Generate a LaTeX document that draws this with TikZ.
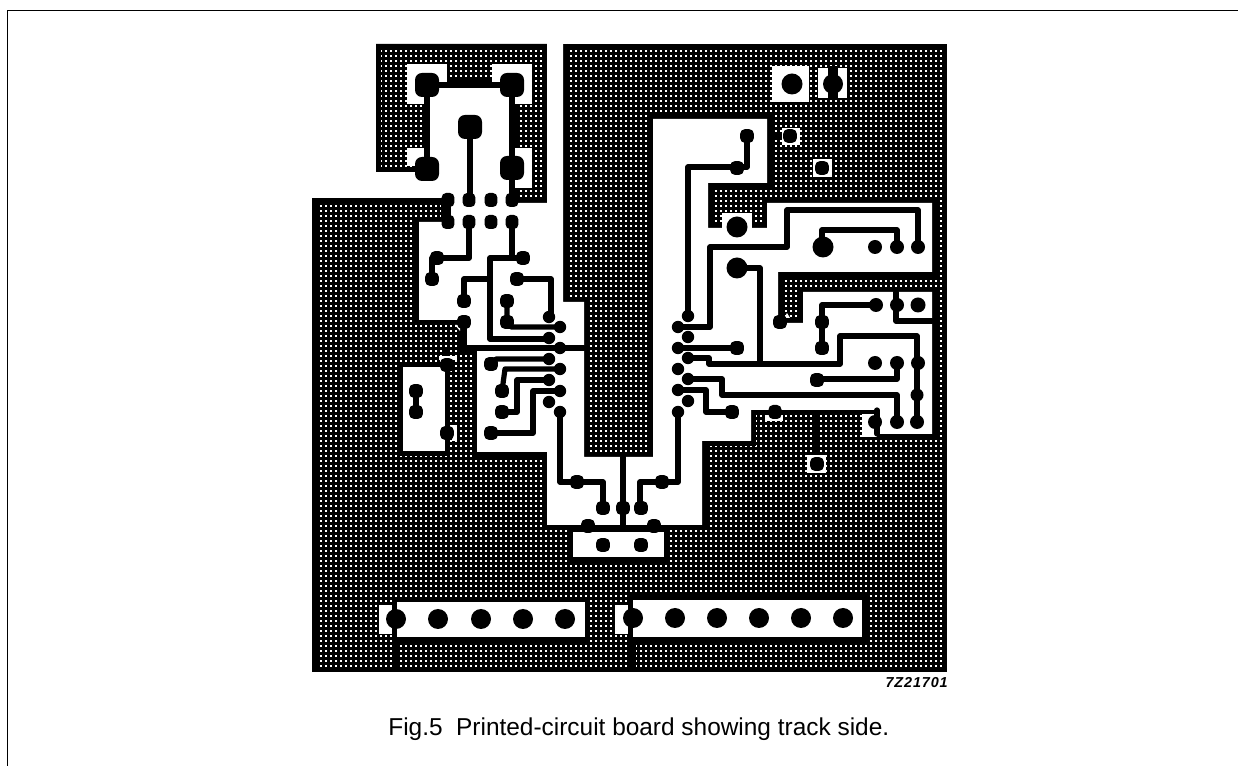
\documentclass[tikz,border=0pt]{standalone}
\usepackage{fontspec}
\setmainfont{Liberation Sans}
\newfontfamily\codefont[LetterSpace=6]{Liberation Sans}
\newcommand\cpad[3]{\fill (#1,#2) circle[radius=#3];}
\newcommand\rpad[4]{\fill[rounded corners=0.09cm] ({#1-#3},{#2-#4}) rectangle ({#1+#3},{#2+#4});}
\newcommand\bpad[2]{\fill[rounded corners=0.14cm] ({#1-12},{#2-12}) rectangle ({#1+12},{#2+12});}
\newcommand\pin[2]{\cpad{#1}{#2}{6.2}}
\newcommand\spad[2]{\rpad{#1}{#2}{6.8}{6.8}}
\tikzset{
  trk/.style={draw=black,line width=0.104cm,line join=round,line cap=round},
  band/.style={draw=black,line width=0.2cm,line join=miter},
  clear/.style={fill=white},
  dotrow/.style={draw=white,line width=0.048cm,dash pattern=on 0.048cm off 0.052cm},
  framer/.style={draw=black,line width=0.03cm}
}
\begin{document}
\begin{tikzpicture}[x=0.02cm,y=-0.02cm]
\useasboundingbox (0,0) rectangle (1238,766);
\fill[white] (0,0) rectangle (1238,766);
% frame
\draw[framer] (7.5,766) -- (7.5,10.5) -- (1238,10.5);
% copper ground
\fill[black] (376,44) -- (547,44) -- (547,203) -- (512,203) -- (512,85) -- (427,85) -- (427,172) -- (376,172) -- cycle;
\fill[black] (563,44) rectangle (947,672);
\fill[black] (312,198) rectangle (564,672);
% perforation dots
\begin{scope}
\clip (381,49) -- (542,49) -- (542,198) -- (512,198) -- (512,85) -- (427,85) -- (427,167) -- (381,167) -- cycle
      (568,49) rectangle (942,667)
      (317,203) rectangle (569,667);
\foreach \r in {46,51,...,671}{
  \draw[dotrow] (300,\r) -- (960,\r);
}
\end{scope}
% solid tracks running through the ground
\draw[black,line width=0.16cm] (396,598) -- (396,672);
\draw[black,line width=0.16cm] (632,598) -- (632,672);
\draw[black,line width=0.1cm] (817,411) -- (817,458);
\draw[black,line width=0.12cm] (447,350) -- (447,456);
\draw[black,line width=0.1cm] (770,136) -- (790,136);
% solid bands round the cleared areas
\draw[band] (563,44) -- (563,302) -- (584,302) -- (584,457) -- (653,457) -- (653,119) -- (767,119)
  -- (767,183) -- (708,183) -- (708,228) -- (767,228) -- (767,203) -- (932,203) -- (932,272)
  -- (778,272) -- (778,323) -- (803,323) -- (803,292) -- (932,292) -- (932,434) -- (877,434)
  -- (877,410) -- (751,410) -- (751,441) -- (702,441) -- (702,525) -- (547,525) -- (547,452)
  -- (477,452) -- (477,347) -- (464,347) -- (464,320) -- (419,320) -- (419,222) -- (446,222) -- (446,198);
\draw[band] (427,172) -- (427,85) -- (512,85) -- (512,203) -- (547,203) -- (547,44);
\draw[band] (403,367) rectangle (445,451);
\draw[band] (573,532) rectangle (664,557);
\draw[band] (397,602) rectangle (585,637);
\draw[band] (633,600) rectangle (862,637);
% cleared areas
\fill[clear] (563,44) -- (563,302) -- (584,302) -- (584,457) -- (653,457) -- (653,119) -- (767,119)
  -- (767,183) -- (708,183) -- (708,228) -- (767,228) -- (767,203) -- (932,203) -- (932,272)
  -- (778,272) -- (778,323) -- (803,323) -- (803,292) -- (932,292) -- (932,434) -- (877,434)
  -- (877,410) -- (751,410) -- (751,441) -- (702,441) -- (702,525) -- (547,525) -- (547,452)
  -- (477,452) -- (477,347) -- (464,347) -- (464,320) -- (419,320) -- (419,222) -- (446,222) -- (446,198)
  -- (427,172) -- (427,85) -- (512,85) -- (512,203) -- (547,203) -- (547,40) -- (563,40) -- cycle;
\fill[clear] (403,367) rectangle (445,451);
\fill[clear] (573,532) rectangle (664,557);
\fill[clear] (397,602) rectangle (585,637);
\fill[clear] (633,600) rectangle (862,637);
% pad clearances
\fill[clear] (407,64) rectangle (447,104);
\fill[clear] (492,64) rectangle (532,104);
\fill[clear] (407,148) rectangle (427,166);
\fill[clear] (512,148) rectangle (532,188);
\fill[clear] (379,605) rectangle (392,634);
\fill[clear] (615,605) rectangle (628,634);
\fill[clear] (772,66) rectangle (809,102);
\fill[clear] (818,68) rectangle (847,98);
\fill[clear] (782,128) rectangle (800,145);
\fill[clear] (813,159) rectangle (832,177);
\fill[clear] (722,213) rectangle (752,230);
\fill[clear] (807,455) rectangle (826,473);
\fill[clear] (862,414) rectangle (877,437);
\fill[clear] (765,415) rectangle (783,421);
\fill[clear] (439,356) rectangle (457,360);
\fill[clear] (452,425) rectangle (457,441);
\fill[clear] (455,325) -- (460,325) -- (460,331) -- cycle;
\fill[clear] (787,313) -- (790,318) -- (784,318) -- cycle;
% tracks: top left
\draw[trk] (427,169) -- (427,85) -- (512,85) -- (512,200);
\draw[trk] (470,127) -- (470,200);
\draw[trk] (448,200) -- (448,222);
\draw[trk] (469,222) -- (469,258) -- (432,258) -- (432,279);
\draw[trk] (512,222) -- (512,258);
\draw[trk] (523,258) -- (490,258) -- (490,339) -- (549,339);
\draw[trk] (517,279) -- (551,279) -- (551,317);
\draw[trk] (507,301) -- (507,322) -- (511,327) -- (560,327);
\draw[trk] (464,301) -- (464,279) -- (490,279);
\draw[trk] (464,322) -- (464,348) -- (584,348);
% tracks: left IC
\draw[trk] (491,364) -- (496,359) -- (549,359);
\draw[trk] (502,391) -- (505,369) -- (560,369);
\draw[trk] (502,412) -- (517,412) -- (517,380) -- (549,380);
\draw[trk] (491,433) -- (533,433) -- (533,391) -- (560,391);
\draw[trk] (560,412) -- (560,482) -- (603,482) -- (603,508);
% tracks: bottom centre
\draw[trk] (678,412) -- (678,482) -- (640,482) -- (640,508);
\draw[trk] (623,457) -- (623,526);
% tracks: right IC
\draw[trk] (688,316) -- (688,167) -- (747,167) -- (747,136);
\draw[trk] (678,327) -- (710,327) -- (710,247) -- (787,247) -- (787,210) -- (918,210) -- (918,247);
\draw[trk] (737,268) -- (760,268) -- (760,364);
\draw[trk] (822,247) -- (822,230) -- (897,230) -- (897,247);
\draw[trk] (678,348) -- (737,348);
\draw[trk] (688,358) -- (709,358) -- (709,364) -- (840,364) -- (840,336) -- (917,336) -- (917,422);
\draw[trk] (688,379) -- (722,379) -- (722,395) -- (897,395) -- (897,422);
\draw[trk] (678,390) -- (706,390) -- (706,412) -- (731,412);
\draw[trk] (897,363) -- (897,379) -- (817,379);
\draw[trk] (876,305) -- (822,305) -- (822,348);
\draw[trk] (896,292) -- (896,321) -- (932,321);
\draw[trk] (877,410) -- (877,434);
\draw[trk] (416,391) -- (416,412);
% pads: top left
\bpad{427}{85} \bpad{512}{85} \bpad{470}{127} \bpad{427}{169} \bpad{512}{168}
\foreach \px in {448,469,491,512}{ \rpad{\px}{200}{6.4}{7} \rpad{\px}{222}{6.4}{7} }
\spad{432}{279} \spad{437}{258} \spad{523}{258} \spad{517}{279}
\spad{507}{301} \spad{507}{322} \spad{464}{301} \spad{464}{322}
\spad{416}{391} \spad{416}{412} \spad{447}{365} \spad{447}{433}
\spad{491}{364} \spad{502}{391} \spad{502}{412} \spad{491}{433}
% pads: IC columns
\foreach \py in {317,338,359,380,402}{ \pin{549}{\py} }
\foreach \py in {327,348,369,391,412}{ \pin{560}{\py} }
\foreach \py in {327,348,369,390,412}{ \pin{678}{\py} }
\foreach \py in {316,337,358,379,401}{ \pin{688}{\py} }
% pads: bottom centre
\spad{603}{508} \spad{623}{508} \spad{641}{508}
\spad{577}{482} \spad{662}{482} \spad{588}{526} \spad{654}{526}
\spad{603}{545} \spad{641}{545}
% pads: top right
\cpad{792}{84}{10.5}
\fill (828,66) rectangle (838,100);
\cpad{833}{84}{10}
\spad{747}{136} \spad{737}{168} \spad{790}{136} \spad{822}{168}
\cpad{737}{227}{10.5} \cpad{737}{268}{10.5}
\cpad{823}{247}{10.5} \cpad{875}{247}{7} \cpad{897}{247}{7} \cpad{918}{247}{7}
% pads: lower right
\spad{737}{348} \spad{732}{412} \spad{817}{380} \spad{817}{464}
\cpad{876}{305}{7} \cpad{897}{305}{7} \cpad{918}{305}{7.5}
\spad{822}{322} \spad{822}{348} \spad{780}{322}
\cpad{875}{363}{7} \cpad{897}{363}{7} \cpad{918}{363}{7}
\cpad{917}{395}{6.5}
\cpad{875}{422}{7} \cpad{897}{422}{7} \cpad{917}{422}{7}
\rpad{775}{412}{6.5}{7}
% connector strips
\foreach \px in {396,438,481,523,565}{ \cpad{\px}{619}{10} }
\foreach \px in {633,675,717,759,801,843}{ \cpad{\px}{618}{10} }
% texts
\node[anchor=base east,inner sep=0pt] (code) at (948,688)
  {\fontsize{8.2}{10}\selectfont\codefont\bfseries\itshape 7Z21701};
\node[anchor=base west,inner sep=0pt] (caption) at (388,736)
  {\fontsize{13.9}{16}\selectfont Fig.5\ \ Printed-circuit board showing track side.};
\end{tikzpicture}
\end{document}
